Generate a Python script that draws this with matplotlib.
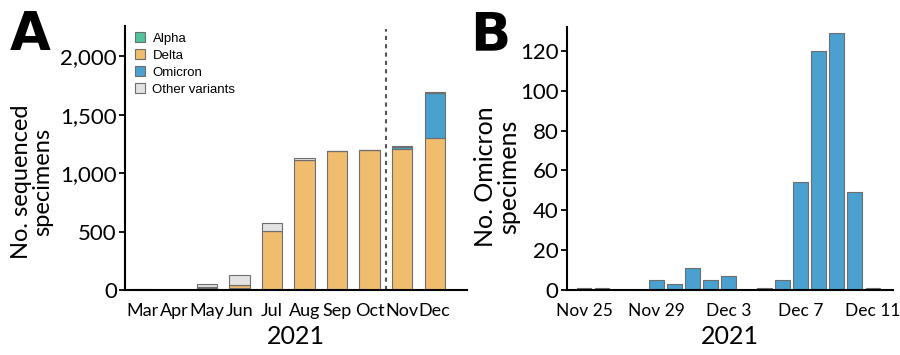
import numpy as np
import matplotlib
matplotlib.use("Agg")
import matplotlib.pyplot as plt
from matplotlib.patches import Patch

plt.rcParams['font.family'] = ['Lato', 'DejaVu Sans']

# Panel A: monthly sequenced specimens by variant
months = ['Mar', 'Apr', 'May', 'Jun', 'Jul', 'Aug', 'Sep', 'Oct', 'Nov', 'Dec']
alpha = [0, 0, 20, 15, 0, 0, 0, 0, 0, 0]
delta = [0, 0, 4, 25, 505, 1113, 1186, 1196, 1208, 1305]
omicron = [0, 0, 0, 0, 0, 0, 0, 0, 18, 382]
other = [6, 0, 31, 85, 67, 13, 4, 4, 3, 7]

# Panel B: daily Omicron specimens, Nov 25 - Dec 11
days = ['Nov 25', 'Nov 26', 'Nov 27', 'Nov 28', 'Nov 29', 'Nov 30', 'Dec 1',
        'Dec 2', 'Dec 3', 'Dec 4', 'Dec 5', 'Dec 6', 'Dec 7', 'Dec 8',
        'Dec 9', 'Dec 10', 'Dec 11']
omicron_daily = [1, 1, 0, 0, 5, 3, 11, 5, 7, 0, 1, 5, 54, 120, 129, 49, 1]
day_ticks = ['Nov 25', 'Nov 29', 'Dec 3', 'Dec 7', 'Dec 11']

c_alpha = '#4fc39c'
c_delta = '#f0bd6e'
c_omicron = '#4aa0cf'
c_other = '#e2e2e2'
edge = '#6e6e6e'

fig = plt.figure(figsize=(9, 3.55), dpi=100)
axA = fig.add_axes([0.139, 0.183, 0.38, 0.744])
axB = fig.add_axes([0.630, 0.183, 0.362, 0.741])

for ax in (axA, axB):
    for s in ('top', 'right'):
        ax.spines[s].set_visible(False)
    ax.spines['left'].set_linewidth(1.5)
    ax.spines['bottom'].set_linewidth(1.5)
    ax.tick_params(axis='y', labelsize=16, length=4, width=1.3, pad=2)
    ax.tick_params(axis='x', length=0, pad=9)

# --- Panel A
x = np.arange(len(months))
w = 0.62
bottom = np.zeros(len(months))
for vals, col in [(alpha, c_alpha), (delta, c_delta), (omicron, c_omicron), (other, c_other)]:
    vals = np.array(vals)
    axA.bar(x, vals, w, bottom=bottom, color=col, edgecolor=edge, linewidth=0.8)
    bottom += vals

axA.set_xlim(-0.52, 10.0)
axA.set_ylim(0, 2260)
axA.set_yticks([0, 500, 1000, 1500, 2000])
axA.set_yticklabels(['0', '500', '1,000', '1,500', '2,000'])
axA.set_xticks(x)
axA.set_xticklabels(months, fontsize=13)
axA.axvline(7.5, ymin=0, ymax=0.99, color='#555555', linestyle=(0, (2, 2)), linewidth=1.5)
axA.set_xlabel('2021', fontsize=18, labelpad=5)
axA.set_ylabel('No. sequenced\nspecimens', fontsize=17, linespacing=1.0)
axA.yaxis.set_label_coords(-0.21, 0.41)

handles = [Patch(facecolor=c, edgecolor=edge, linewidth=0.8) for c in (c_alpha, c_delta, c_omicron, c_other)]
leg = axA.legend(handles, ['Alpha', 'Delta', 'Omicron', 'Other variants'],
                 loc='upper left', bbox_to_anchor=(0.028, 0.977), frameon=False,
                 prop={'family': 'Liberation Sans', 'size': 9.5},
                 handlelength=0.8, handleheight=0.8, handletextpad=0.55,
                 labelspacing=0.33, borderaxespad=0, borderpad=0)

# --- Panel B
xd = np.arange(len(days))
axB.bar(xd, omicron_daily, 0.82, color=c_omicron, edgecolor=edge, linewidth=0.8)
axB.set_xlim(-0.94, 17.1)
axB.set_ylim(0, 132)
axB.set_yticks(range(0, 121, 20))
axB.set_xticks([days.index(d) for d in day_ticks])
axB.set_xticklabels(day_ticks, fontsize=12.5)
axB.set_xlabel('2021', fontsize=18, labelpad=5)
axB.set_ylabel('No. Omicron\nspecimens', fontsize=18, linespacing=1.0)
axB.yaxis.set_label_coords(-0.144, 0.43)

fig.text(0.011, 0.975, 'A', fontsize=38, fontweight='bold', family='DejaVu Sans', va='top', ha='left')
fig.text(0.522, 0.975, 'B', fontsize=38, fontweight='bold', family='DejaVu Sans', va='top', ha='left')

fig.savefig('out.png', dpi=100)
